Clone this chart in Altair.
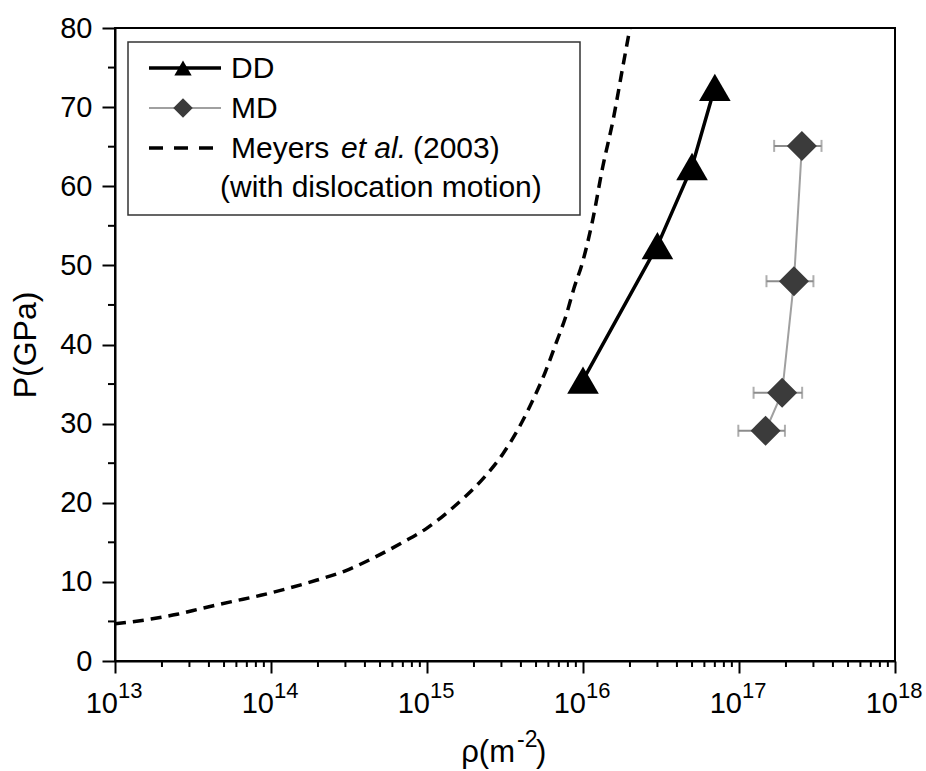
import altair as alt
import pandas as pd

# Dislocation dynamics (DD) results
dd_rho = [1.0e16, 3.0e16, 5.0e16, 7.0e16]
dd_p = [35.5, 52.5, 62.5, 72.5]

# Molecular dynamics (MD) results with horizontal error bars
md_rho = [1.48e17, 1.89e17, 2.25e17, 2.53e17]
md_p = [29.1, 33.9, 48.0, 65.1]
md_err = [0.49e17, 0.65e17, 0.75e17, 0.85e17]

# Meyers et al. (2003) model, with dislocation motion
meyers_rho = [1.0e13, 1.7e13, 2.5e13, 3.7e13, 5.6e13, 8.6e13, 1.3e14, 1.95e14,
              3.0e14, 4.4e14, 7.0e14, 1.0e15, 1.47e15, 2.25e15, 3.07e15,
              3.89e15, 4.78e15, 5.7e15, 6.7e15, 7.8e15, 8.75e15, 9.9e15,
              1.15e16, 1.34e16, 1.56e16, 1.80e16, 2.0e16]
meyers_p = [4.7, 5.3, 5.9, 6.7, 7.5, 8.3, 9.2, 10.2, 11.4, 12.9, 15.0, 16.8,
            19.4, 22.9, 26.2, 29.5, 33.0, 36.4, 40.1, 43.7, 47.1, 50.3, 55.6,
            62.5, 68.4, 75.1, 80.0]

# Axis ticks
decades = [1e13, 1e14, 1e15, 1e16, 1e17, 1e18]
exponents = ["13", "14", "15", "16", "17", "18"]
x_minor = [float(m * 10 ** k) for k in range(13, 18) for m in range(2, 10)]
y_major = list(range(0, 81, 10))
y_minor = list(range(5, 80, 10))

FONT = "Liberation Sans"
W, H = 780, 633

dd = pd.DataFrame({"rho": dd_rho, "p": dd_p})
md = pd.DataFrame({"rho": md_rho, "p": md_p, "err": md_err})
md["lo"] = md["rho"] - md["err"]
md["hi"] = md["rho"] + md["err"]
caps = pd.concat([
    pd.DataFrame({"rho": md["lo"], "p": md["p"]}),
    pd.DataFrame({"rho": md["hi"], "p": md["p"]}),
])
meyers = pd.DataFrame({"rho": meyers_rho, "p": meyers_p})
ticks_df = pd.DataFrame({"rho": decades, "exp": exponents})
x_minor_df = pd.DataFrame({"rho": x_minor})
y_minor_df = pd.DataFrame({"p": y_minor})

x_scale = alt.Scale(type="log", domain=[1e13, 1e18], nice=False)
y_scale = alt.Scale(domain=[0, 80], nice=False, zero=False)

x_axis = alt.Axis(
    values=decades,
    labels=False,
    grid=False,
    domainColor="black",
    domainWidth=2,
    tickColor="black",
    tickWidth=2,
    tickSize=12,
    title=None,
)
y_axis = alt.Axis(
    values=y_major,
    grid=False,
    labelFont=FONT,
    labelFontSize=29,
    labelColor="black",
    labelPadding=10,
    domainColor="black",
    domainWidth=2,
    tickColor="black",
    tickWidth=2,
    tickSize=13,
    title="P(GPa)",
    titleFont=FONT,
    titleFontSize=32,
    titleFontWeight="normal",
    titleColor="black",
    titlePadding=17,
)


def X(f="rho"):
    return alt.X(f"{f}:Q", scale=x_scale, axis=x_axis)


def Y(f="p"):
    return alt.Y(f"{f}:Q", scale=y_scale, axis=y_axis)


meyers_line = alt.Chart(meyers).mark_line(
    color="black", strokeWidth=3.5, strokeDash=[11, 7], clip=True, interpolate="monotone"
).encode(x=X(), y=Y())

md_bars = alt.Chart(md).mark_rule(color="#8c8c8c", strokeWidth=2).encode(
    x=X("lo"), x2="hi", y=Y()
)
md_caps = alt.Chart(caps).mark_tick(
    color="#8c8c8c", orient="vertical", size=12, thickness=2
).encode(x=X(), y=Y())
md_line = alt.Chart(md).mark_line(color="#a0a0a0", strokeWidth=2).encode(
    x=X(), y=Y(), order="p:Q"
)
md_points = alt.Chart(md).mark_point(
    shape="diamond", filled=True, size=900, color="#3b3b3b", opacity=1
).encode(x=X(), y=Y())

dd_line = alt.Chart(dd).mark_line(color="black", strokeWidth=3.5).encode(
    x=X(), y=Y(), order="p:Q"
)
dd_points = alt.Chart(dd).mark_point(
    shape="triangle-up", filled=True, size=1000, color="black", opacity=1
).encode(x=X(), y=Y())

# Minor ticks on both axes
x_minor_ticks = alt.Chart(x_minor_df).mark_rule(color="black", strokeWidth=2).encode(
    x=X(), y=alt.value(H), y2=alt.value(H + 6)
)
y_minor_ticks = alt.Chart(y_minor_df).mark_rule(color="black", strokeWidth=2).encode(
    y=Y(), x=alt.value(-7), x2=alt.value(0)
)

# Decade labels of the log axis: "10" with a raised exponent
tick_base = alt.Chart(ticks_df).mark_text(
    text="10", font=FONT, fontSize=29, align="right", baseline="alphabetic", dx=3, color="black"
).encode(x=X(), y=alt.value(H + 52))
tick_exp = alt.Chart(ticks_df).mark_text(
    font=FONT, fontSize=22, align="left", baseline="alphabetic", dx=3, color="black"
).encode(x=X(), y=alt.value(H + 37), text="exp:N")

one = alt.Data(values=[{"k": 0}])


def text(t, x, y, size=30, style="normal", align="left", baseline="middle"):
    return alt.Chart(one).mark_text(
        text=t, font=FONT, fontSize=size, fontStyle=style, align=align,
        baseline=baseline, color="black"
    ).encode(x=alt.value(x), y=alt.value(y))


# x-axis title with a superscript exponent
x_title = [
    text("ρ(m", 400, H + 101, size=31, align="right", baseline="alphabetic"),
    text("-2", 402, H + 86, size=23, baseline="alphabetic"),
    text(")", 421, H + 101, size=31, baseline="alphabetic"),
]

# Legend
box = alt.Chart(one).mark_rect(fill="white", stroke="#333333", strokeWidth=1.5).encode(
    x=alt.value(13), x2=alt.value(465), y=alt.value(14), y2=alt.value(187)
)
leg_dd_line = alt.Chart(one).mark_rule(color="black", strokeWidth=3.5).encode(
    x=alt.value(34), x2=alt.value(106), y=alt.value(40)
)
leg_dd_pt = alt.Chart(one).mark_point(
    shape="triangle-up", filled=True, size=300, color="black", opacity=1
).encode(x=alt.value(68), y=alt.value(40))
leg_md_line = alt.Chart(one).mark_rule(color="#a0a0a0", strokeWidth=2).encode(
    x=alt.value(34), x2=alt.value(106), y=alt.value(80)
)
leg_md_pt = alt.Chart(one).mark_point(
    shape="diamond", filled=True, size=380, color="#3b3b3b", opacity=1
).encode(x=alt.value(68), y=alt.value(80))
leg_meyers = alt.Chart(one).mark_rule(color="black", strokeWidth=3.5, strokeDash=[14, 11]).encode(
    x=alt.value(34), x2=alt.value(106), y=alt.value(120)
)

legend = [
    box, leg_dd_line, leg_dd_pt, leg_md_line, leg_md_pt, leg_meyers,
    text("DD", 116, 41),
    text("MD", 116, 81),
    text("Meyers", 116, 121),
    text("et al.", 226, 121, style="italic"),
    text("(2003)", 298, 121),
    text("(with dislocation motion)", 105, 160),
]

chart = alt.layer(
    meyers_line, md_bars, md_caps, md_line, md_points, dd_line, dd_points,
    x_minor_ticks, y_minor_ticks, tick_base, tick_exp, *x_title, *legend
).properties(
    width=W,
    height=H,
    padding={"left": 115, "top": 28, "right": 31, "bottom": 110},
    autosize="none",
    background="white",
).configure_view(
    stroke="black", strokeWidth=2
)

chart.save("out.html", embed_options={"renderer": "svg", "actions": False})
